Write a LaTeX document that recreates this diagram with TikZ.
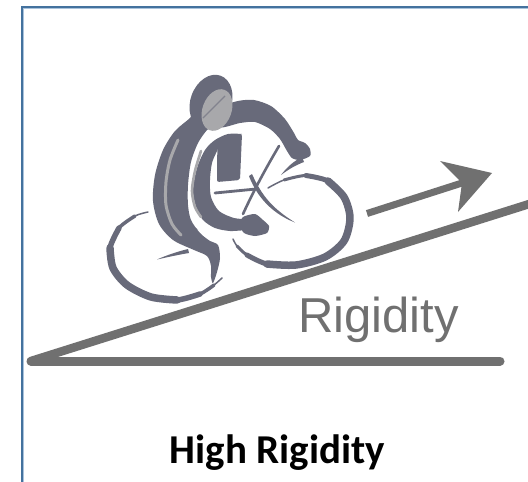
\documentclass[tikz,border=0pt]{standalone}
\usepackage{fontspec}
\newfontfamily\rigfont{Liberation Sans}
\newfontfamily\calfont{Carlito}
\definecolor{cyc}{RGB}{104,106,122}
\definecolor{cyclight}{RGB}{168,168,171}
\definecolor{slopegray}{RGB}{112,112,112}
\definecolor{framedark}{RGB}{68,114,158}
\definecolor{framelight}{RGB}{170,195,220}
\begin{document}
\begin{tikzpicture}[x=1pt,y=-1pt,
  ramp/.style={slopegray, line width=8.5pt, line cap=round},
  body/.style={fill=cyc},
  wheelstroke/.style={cyc, line cap=round, line join=round},
  hilite/.style={cyclight, line width=3pt, line cap=round},
  thinbar/.style={cyc, line width=2.6pt, line cap=round}]
\useasboundingbox (0,0) rectangle (528,482);
\clip (0,0) rectangle (528,482);
\fill[white] (0,0) rectangle (528,482);
% frame
\draw[framedark, line width=2.2pt] (22,490) -- (22,7) -- (540,7);
\draw[framelight, line width=0.9pt] (23.7,490) -- (23.7,8.7) -- (540,8.7);
% ramp
\coordinate (base0) at (31,361);
\coordinate (base1) at (500,361);
\coordinate (top1) at (560,194.3);
\draw[ramp, line width=9pt] (base0) -- (base1);
\draw[ramp] (base0) -- (top1);
% arrow
\coordinate (ar0) at (367,213.5);
\coordinate (arN) at (462,183);
\coordinate (arT) at (492,173);
\coordinate (arB1) at (440,161);
\coordinate (arB2) at (458,212);
\draw[slopegray, line width=7pt] (ar0) -- (arN);
\fill[slopegray] (arT) -- (arB1) -- (arN) -- (arB2) -- cycle;
% texts
\node[anchor=base west, inner sep=0, text=slopegray, font=\rigfont\fontsize{49}{49}\selectfont] (rig) at (298,332) {Rigidity};
\node[anchor=base, inner sep=0, font=\calfont\bfseries\fontsize{41}{41}\selectfont] (title) at (277.5,463) {High Rigidity};
% front wheel (tapered by stacked strokes)
\draw[wheelstroke, line width=1.5pt] plot[smooth] coordinates {(268,188) (284,180) (306,175.5) (328,181) (344,197) (350,218) (344,241) (325,257) (296,265) (267,264) (247,255) (237,246) (233,239)};
\draw[wheelstroke, line width=3pt] plot[smooth] coordinates {(284,180) (306,175.5) (328,181) (344,197) (350,218) (344,241) (325,257) (296,265) (267,264) (247,255) (237,246)};
\draw[wheelstroke, line width=5pt] plot[smooth] coordinates {(306,175.5) (328,181) (344,197) (350,218) (344,241) (325,257) (296,265) (267,264) (247,255)};
\draw[wheelstroke, line width=7.5pt] plot[smooth] coordinates {(328,181) (344,197) (350,218) (344,241) (325,257) (296,265) (267,264)};
% rear wheel
\draw[wheelstroke, line width=1.5pt] plot[smooth] coordinates {(148,212) (135,216) (119,228) (110,248) (113,268) (127,285) (151,297) (177,300) (200,294) (214,285) (222,278)};
\draw[wheelstroke, line width=3.5pt] plot[smooth] coordinates {(135,216) (119,228) (110,248) (113,268) (127,285) (151,297) (177,300) (200,294) (214,285)};
\draw[wheelstroke, line width=5.5pt] plot[smooth] coordinates {(119,228) (110,248) (113,268) (127,285) (151,297) (177,300) (200,294)};
\draw[wheelstroke, line width=7.5pt] plot[smooth] coordinates {(110,248) (113,268) (127,285) (151,297) (177,300)};
% small strokes
\fill[body] (180,219) .. controls (186,222) and (191,225) .. (198,229.5) .. controls (191,228) and (185,226) .. (179,224) -- cycle;
\fill[body] (157,259.5) .. controls (166,255.5) and (176,252) .. (188,249) -- (189,253) .. controls (177,255) and (166,257.5) .. cycle;
% swoosh in front wheel
\fill[body] (249,176) .. controls (255,192) and (268,212) .. (295,222.5) .. controls (272,208) and (262,196) .. (252,174) -- cycle;
% bars
\draw[thinbar] (279,146) .. controls (266,168) and (254,190) .. (243,214);
\draw[thinbar, line width=2.8pt] (215,193) -- (256,189);
% outer body
\fill[body] plot[smooth cycle, tension=0.5] coordinates {(200,106) (190,118) (175,131) (163,150) (155,175) (153,201) (159,224) (173,240) (194,250) (207,256) (211,266) (211,277) (213,283) (217,272) (220,258) (218,245) (210,241) (200,233) (191,220) (188,205) (188,185) (191,162) (198,143) (207,130) (214,124)};
% inner C
\fill[body] plot[smooth, tension=0.5] coordinates {(242,134) (228,134) (215,140) (205,150) (197,168) (193,190) (196,207) (203,220) (215,228) (230,231) (246,230)}
  -- plot[smooth, tension=0.5] coordinates {(246,219) (234,218) (219,211) (211,197) (210,180) (212,163) (217,151) (219,146)} -- cycle;
% block
\fill[body, rounded corners=2pt] (218,139) -- (242,134) -- (240,180) -- (217,182) -- (217,160) -- cycle;
% foot
\fill[body] plot[smooth cycle, tension=0.4] coordinates {(243,217) (255,214) (263,220) (269,226) (267,233) (255,236) (244,233) (240,225)};
% arm and hand
\fill[body] plot[smooth cycle, tension=0.45] coordinates {(220,108) (238,101) (254,100) (271,106) (285,119) (294,133) (298,140) (305,143) (310,149) (310,156) (300,160) (292,158) (287,151) (280,139) (270,129) (255,122) (240,123) (220,127)};
% thumb hook
\fill[body] (302,157) .. controls (294,161) and (287,167) .. (281,175) .. controls (289,169) and (296,165) .. (304,162) -- cycle;
% head
\fill[cyc, rotate around={-20:(211,102)}] (211,102) ellipse [x radius=20.5pt, y radius=28pt];
\fill[cyclight, rotate around={-20:(217,110)}] (217,110) ellipse [x radius=14.5pt, y radius=21.5pt];
\draw[cyc!60!cyclight, line width=1.2pt] (203,118) -- (225,96);
% highlights
\draw[hilite] plot[smooth] coordinates {(178,140) (170,160) (166,182) (166,205) (172,224) (181,235)};
\draw[hilite, line width=2.6pt] plot[smooth] coordinates {(201,151) (195,171) (192,191) (195,207) (201,217)};
\end{tikzpicture}
\end{document}
